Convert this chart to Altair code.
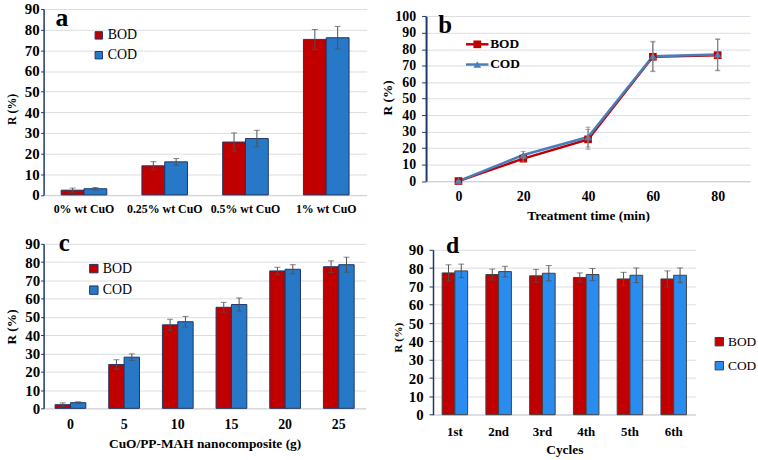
import altair as alt
import pandas as pd

SERIES = ["BOD", "COD"]

# ---- panel a ----
A_CATS = ["0% wt CuO", "0.25% wt CuO", "0.5% wt CuO", "1% wt CuO"]
A_BOD = [2.3, 14.1, 25.6, 75.3]
A_COD = [3.0, 16.0, 27.3, 76.1]
A_BOD_ERR = [1.0, 2.0, 4.4, 4.8]
A_COD_ERR = [0.6, 1.6, 4.0, 5.5]

# ---- panel b ----
B_TIMES = ["0", "20", "40", "60", "80"]
B_BOD = [0.0, 13.6, 25.3, 75.4, 76.4]
B_COD = [0.0, 15.8, 26.7, 75.8, 76.8]
B_BOD_ERR = [0.0, 2.0, 6.0, 9.0, 9.5]
B_COD_ERR = [0.0, 2.2, 6.0, 9.0, 9.5]

# ---- panel c ----
C_CATS = ["0", "5", "10", "15", "20", "25"]
C_BOD = [2.0, 24.0, 45.7, 55.3, 75.2, 77.5]
C_COD = [3.1, 28.0, 47.4, 56.8, 76.1, 78.6]
C_BOD_ERR = [1.0, 2.6, 3.0, 2.7, 2.0, 3.2]
C_COD_ERR = [0.5, 1.8, 2.9, 3.6, 2.5, 4.1]

# ---- panel d ----
D_CATS = ["1st", "2nd", "3rd", "4th", "5th", "6th"]
D_BOD = [77.4, 76.5, 75.8, 74.9, 74.1, 74.1]
D_COD = [78.5, 78.1, 77.2, 76.5, 76.1, 76.1]
D_BOD_ERR = [4.4, 3.0, 3.5, 2.5, 3.6, 4.4]
D_COD_ERR = [3.7, 2.9, 4.2, 3.3, 4.0, 4.0]

FONT = "Liberation Serif"
NAVY = "#1F3864"
GRID = "#dcdce4"
RED = "#C00000"


def long_df(cats, bod, cod, bod_err, cod_err):
    rows = []
    for s, vals, errs in (("BOD", bod, bod_err), ("COD", cod, cod_err)):
        for c, v, e in zip(cats, vals, errs):
            rows.append({"cat": c, "series": s, "value": v, "lo": v - e, "hi": v + e})
    return pd.DataFrame(rows)


def letter_layer(letter, x, y, size):
    return alt.Chart(pd.DataFrame({"t": [letter]})).mark_text(
        font=FONT, fontWeight="bold", fontSize=size, align="left",
        baseline="alphabetic", color="black"
    ).encode(text="t:N", x=alt.value(x), y=alt.value(y))


def bar_panel(df, cats, *, width, height, ymax, yrange, colors, bar_stroke, pad_inner,
              ytick_size, ylabel_pad, ylabel_size, ytitle_size, ytitle_x, ytitle_y,
              xlabel_size, xlabel_pad, xtitle, xtitle_size, xtitle_y,
              letter, letter_x, letter_y, letter_size,
              leg_x, leg_y, leg_sym, leg_row_pad, leg_font, leg_stroke, cap_w, err_color):
    base = alt.Chart(df)
    yscale = alt.Scale(domain=[0, ymax], range=yrange, nice=False, zero=True)
    yaxis = alt.Axis(values=list(range(0, ymax + 1, 10)), domainColor=NAVY, domainWidth=1.5,
                     tickColor=NAVY, tickSize=ytick_size, labelPadding=ylabel_pad,
                     labelFontSize=ylabel_size, titleFontSize=ytitle_size, titleX=ytitle_x,
                     titleY=ytitle_y, titleBaseline="alphabetic", grid=True, gridColor=GRID)

    def Y(field):
        return alt.Y(f"{field}:Q", scale=yscale, axis=yaxis, title="R (%)")

    xaxis_kw = dict(labelAngle=0, ticks=False, domainColor="#d0d0d0", labelPadding=xlabel_pad,
                    labelFontSize=xlabel_size, grid=False)
    if xtitle:
        xaxis_kw.update(titleFontSize=xtitle_size, titleY=xtitle_y, titleBaseline="alphabetic")
    xaxis = alt.Axis(**xaxis_kw)
    X = alt.X("cat:N", sort=cats, scale=alt.Scale(paddingInner=pad_inner, paddingOuter=pad_inner / 2),
              axis=xaxis, title=xtitle if xtitle else None)
    XO = alt.XOffset("series:N", sort=SERIES,
                     scale=alt.Scale(domain=SERIES, paddingInner=0, paddingOuter=0))
    color = alt.Color("series:N", scale=alt.Scale(domain=SERIES, range=colors),
                      legend=alt.Legend(orient="none", legendX=leg_x, legendY=leg_y, title=None,
                                        direction="vertical", symbolType="square",
                                        symbolSize=leg_sym, symbolStrokeColor=leg_stroke,
                                        symbolStrokeWidth=1, labelFont=FONT,
                                        labelFontSize=leg_font, labelFontWeight="normal",
                                        labelColor="black", rowPadding=leg_row_pad,
                                        labelOffset=2, padding=0, symbolOpacity=1))
    bars = base.mark_bar(stroke=bar_stroke, strokeWidth=1).encode(x=X, xOffset=XO, y=Y("value"),
                                                                  color=color)
    rules = base.mark_rule(color=err_color, strokeWidth=1).encode(x=X, xOffset=XO, y=Y("lo"),
                                                                   y2="hi:Q")
    cap_lo = base.mark_tick(color=err_color, thickness=1, size=cap_w).encode(x=X, xOffset=XO,
                                                                             y=Y("lo"))
    cap_hi = base.mark_tick(color=err_color, thickness=1, size=cap_w).encode(x=X, xOffset=XO,
                                                                             y=Y("hi"))
    return alt.layer(bars, rules, cap_lo, cap_hi,
                     letter_layer(letter, letter_x, letter_y, letter_size)).properties(
        width=width, height=height)


def line_panel():
    df = long_df(B_TIMES, B_BOD, B_COD, B_BOD_ERR, B_COD_ERR)
    base = alt.Chart(df)
    H = 173.6
    yscale = alt.Scale(domain=[0, 100], range=[H, 7.3], nice=False, zero=True)
    yaxis = alt.Axis(values=list(range(0, 101, 10)), domainColor=NAVY, domainWidth=2,
                     tickColor=NAVY, tickSize=4.5, labelPadding=6, labelFontSize=14,
                     titleFontSize=13.5, titleX=-34.5, titleY=89.1, titleBaseline="alphabetic",
                     grid=True, gridColor=GRID)

    def Y(field):
        return alt.Y(f"{field}:Q", scale=yscale, axis=yaxis, title="R (%)")

    xaxis = alt.Axis(labelAngle=0, ticks=False, domainColor="#d0d0d0", labelPadding=8.7,
                     labelFontSize=14, titleFontSize=13.5, titleY=39.2,
                     titleBaseline="alphabetic", grid=False)
    X = alt.X("cat:O", sort=B_TIMES, scale=alt.Scale(type="point", padding=0.5), axis=xaxis,
              title="Treatment time (min)")
    line_colors = [RED, "#4A7EBB"]
    shapes = ["square", "triangle-up"]
    color = alt.Color("series:N", scale=alt.Scale(domain=SERIES, range=line_colors), legend=None)
    shape = alt.Shape("series:N", scale=alt.Scale(domain=SERIES, range=shapes), legend=None)
    lines = base.mark_line(strokeWidth=2.5).encode(x=X, y=Y("value"), color=color)
    pts = base.mark_point(filled=True, size=60, opacity=1).encode(x=X, y=Y("value"), color=color,
                                                                  shape=shape)
    rules = base.mark_rule(color="#7f7f7f", strokeWidth=1).encode(x=X, y=Y("lo"), y2="hi:Q")
    cap_lo = base.mark_tick(color="#7f7f7f", thickness=1, size=5).encode(x=X, y=Y("lo"))
    cap_hi = base.mark_tick(color="#7f7f7f", thickness=1, size=5).encode(x=X, y=Y("hi"))

    legend_layers = []
    for s, ly, col, shp in zip(SERIES, [35.6, 56.0], line_colors, shapes):
        d1 = pd.DataFrame({"series": [s]})
        legend_layers.append(alt.Chart(d1).mark_rule(color=col, strokeWidth=2.5).encode(
            x=alt.value(40.3), x2=alt.value(63), y=alt.value(ly)))
        legend_layers.append(alt.Chart(d1).mark_point(shape=shp, filled=True, size=60, opacity=1,
                                                      color=col).encode(
            x=alt.value(51.7), y=alt.value(ly)))
        legend_layers.append(alt.Chart(d1).mark_text(font=FONT, fontWeight="bold", fontSize=13.5,
                                                     align="left", baseline="middle",
                                                     color="black").encode(
            x=alt.value(64.7), y=alt.value(ly), text="series:N"))
    return alt.layer(lines, pts, rules, cap_lo, cap_hi, *legend_layers,
                     letter_layer("b", 12.3, 24, 25)).properties(width=327, height=H)


panel_a = bar_panel(long_df(A_CATS, A_BOD, A_COD, A_BOD_ERR, A_COD_ERR), A_CATS,
                    width=326, height=187.6, ymax=90, yrange=[187.6, 0],
                    colors=[RED, "#2878C8"], bar_stroke=NAVY, pad_inner=0.435,
                    ytick_size=3, ylabel_pad=1.5, ylabel_size=15, ytitle_size=12,
                    ytitle_x=-28, ytitle_y=100.8,
                    xlabel_size=12, xlabel_pad=9.2, xtitle=None, xtitle_size=12, xtitle_y=0,
                    letter="a", letter_x=12, letter_y=17.3, letter_size=26,
                    leg_x=48.7, leg_y=19.6, leg_sym=56, leg_row_pad=6, leg_font=14,
                    leg_stroke=NAVY, cap_w=6, err_color="#505050")

panel_b = line_panel()

panel_c = bar_panel(long_df(C_CATS, C_BOD, C_COD, C_BOD_ERR, C_COD_ERR), C_CATS,
                    width=325, height=166, ymax=90, yrange=[166, 0],
                    colors=[RED, "#2878C8"], bar_stroke=NAVY, pad_inner=0.427,
                    ytick_size=3, ylabel_pad=1, ylabel_size=15, ytitle_size=13.5,
                    ytitle_x=-28.5, ytitle_y=83.4,
                    xlabel_size=14, xlabel_pad=9.7, xtitle="CuO/PP-MAH nanocomposite (g)",
                    xtitle_size=13.5, xtitle_y=39.7,
                    letter="c", letter_x=15.3, letter_y=7.4, letter_size=25,
                    leg_x=43.7, leg_y=18, leg_sym=72, leg_row_pad=7.7, leg_font=14,
                    leg_stroke=NAVY, cap_w=6, err_color="#505050")

panel_d = bar_panel(long_df(D_CATS, D_BOD, D_COD, D_BOD_ERR, D_COD_ERR), D_CATS,
                    width=265, height=172.4, ymax=90, yrange=[172.4, 6],
                    colors=[RED, "#2B8CF0"], bar_stroke="#404040", pad_inner=0.417,
                    ytick_size=4, ylabel_pad=6, ylabel_size=15, ytitle_size=11.5,
                    ytitle_x=-31.5, ytitle_y=94.2,
                    xlabel_size=13, xlabel_pad=11.3, xtitle="Cycles",
                    xtitle_size=13.5, xtitle_y=39.3,
                    letter="d", letter_x=13.2, letter_y=9.4, letter_size=24,
                    leg_x=282.2, leg_y=92, leg_sym=72, leg_row_pad=9.2, leg_font=13.5,
                    leg_stroke="#404040", cap_w=6, err_color="#505050")

RES = dict(color="independent", shape="independent", xOffset="independent",
           x="independent", y="independent")

row1 = alt.hconcat(panel_a, panel_b, spacing=60, bounds="flush").resolve_scale(
    **RES).resolve_legend(color="independent")
row2 = alt.hconcat(panel_c, panel_d, spacing=68, bounds="flush").resolve_scale(
    **RES).resolve_legend(color="independent")

chart = alt.vconcat(row1, row2, spacing=8).resolve_scale(**RES).resolve_legend(
    color="independent").properties(
    padding={"left": 4, "top": 0, "right": 0, "bottom": 0}
).configure_view(stroke=None).configure_axis(
    labelFont=FONT, titleFont=FONT, labelFontWeight="bold", titleFontWeight="bold",
    labelColor="black", titleColor="black", gridColor=GRID, gridWidth=1
)

chart.save("out.html", embed_options={"renderer": "svg", "actions": False})
